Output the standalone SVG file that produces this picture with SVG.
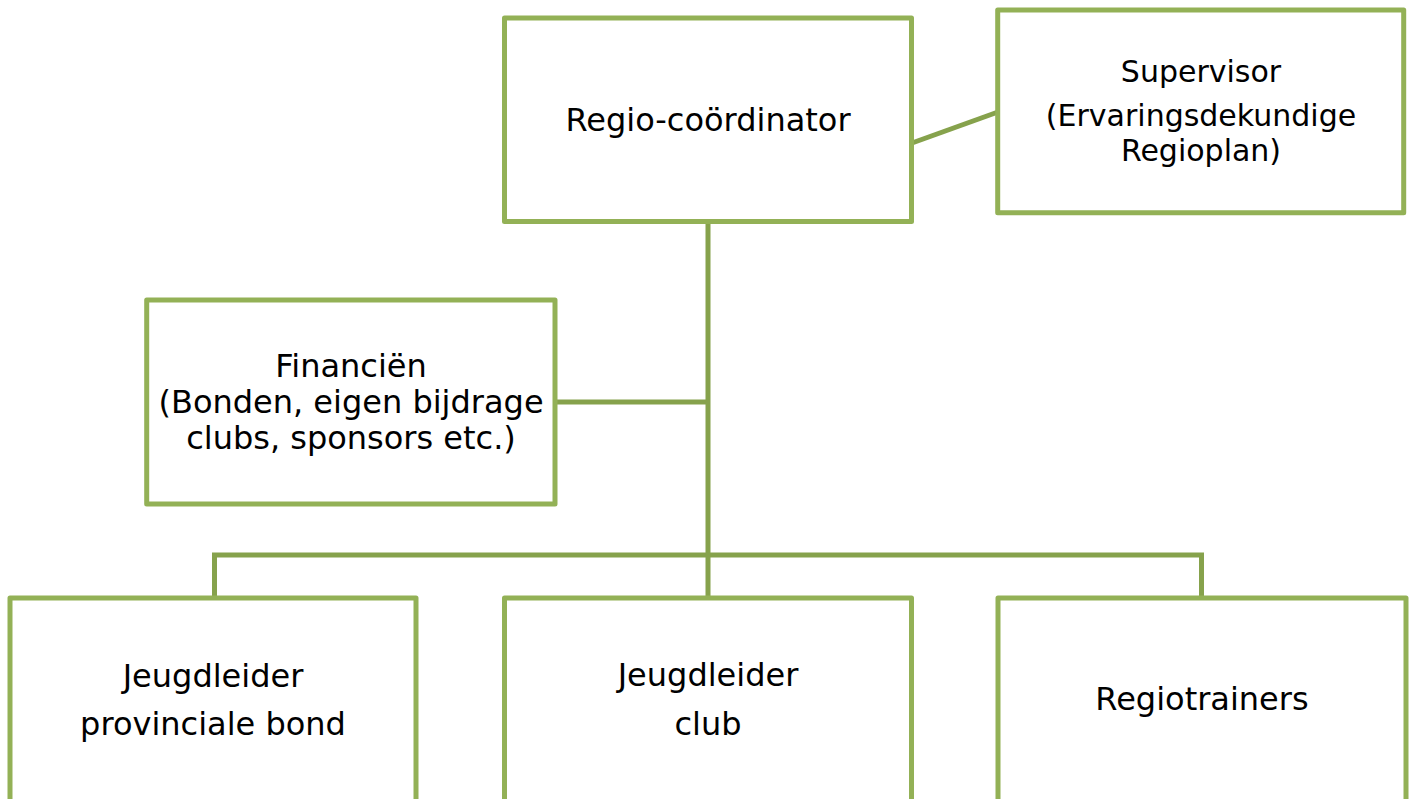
<svg xmlns="http://www.w3.org/2000/svg" width="1410" height="799" viewBox="0 0 1410 799">
  <style>
    .box { fill: #ffffff; stroke: #93B156; stroke-width: 5; stroke-linejoin: round; }
    .conn { fill: none; stroke: #86A24C; stroke-width: 5; stroke-linejoin: miter; }
    .lbl { font-family: "DejaVu Sans", Verdana, sans-serif; font-size: 32px; fill: #000000; text-anchor: middle; }
    .narrow { font-size: 30px; }
  </style>
  <rect width="1410" height="799" fill="#ffffff"/>
  <g id="connectors">
    <path class="conn" d="M708,221 V598"/>
    <path class="conn" d="M555,402 H708"/>
    <path class="conn" d="M214.5,598 V555 H1201.5 V598"/>
    <path class="conn" d="M912,143 L998,112"/>
  </g>
  <g id="regio-coordinator">
    <rect class="box" x="504.5" y="18" width="407" height="203.5"/>
    <text class="lbl" x="708" y="131">Regio-coördinator</text>
  </g>
  <g id="supervisor">
    <rect class="box" x="997.7" y="10" width="406" height="202.7"/>
    <text class="lbl narrow" x="1201" y="82">Supervisor</text>
    <text class="lbl narrow" x="1201" y="126">(Ervaringsdekundige</text>
    <text class="lbl narrow" x="1201" y="161">Regioplan)</text>
  </g>
  <g id="financien">
    <rect class="box" x="146.7" y="300" width="408.3" height="204"/>
    <text class="lbl" x="351" y="377">Financiën</text>
    <text class="lbl" x="351" y="413">(Bonden, eigen bijdrage</text>
    <text class="lbl" x="351" y="449">clubs, sponsors etc.)</text>
  </g>
  <g id="jeugdleider-bond">
    <rect class="box" x="10" y="598" width="406" height="260"/>
    <text class="lbl" x="213" y="687">Jeugdleider</text>
    <text class="lbl" x="213" y="735">provinciale bond</text>
  </g>
  <g id="jeugdleider-club">
    <rect class="box" x="504.5" y="598" width="407" height="260"/>
    <text class="lbl" x="708" y="686">Jeugdleider</text>
    <text class="lbl" x="708" y="735">club</text>
  </g>
  <g id="regiotrainers">
    <rect class="box" x="998" y="598" width="408" height="260"/>
    <text class="lbl" x="1202" y="710">Regiotrainers</text>
  </g>
</svg>
